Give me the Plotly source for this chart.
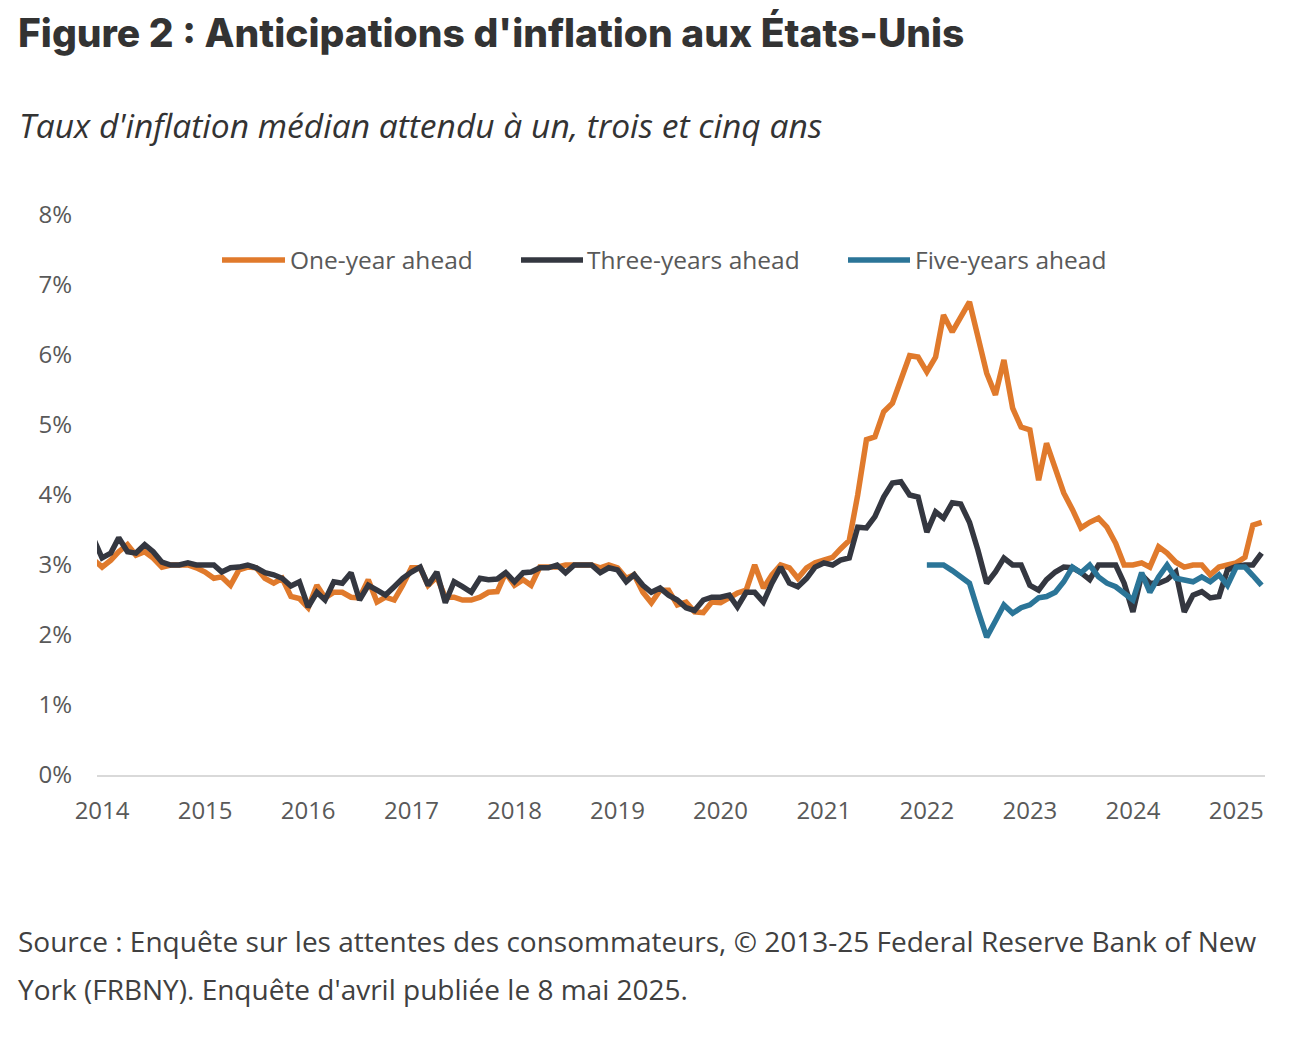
import pandas as pd
import plotly.graph_objects as go

# ---------------- DATA ----------------
months = pd.date_range("2013-12-01", "2025-04-01", freq="MS")          # 137 monthly obs
five_months = pd.date_range("2022-01-01", "2025-04-01", freq="MS")     # 40 monthly obs

one_year = [
    3.08,
    2.97, 3.07, 3.19, 3.29, 3.14, 3.19, 3.10, 2.97, 3.00, 3.00, 3.00, 2.96,   # 2014
    2.90, 2.81, 2.83, 2.71, 2.93, 2.97, 2.96, 2.81, 2.74, 2.81, 2.55, 2.52,   # 2015
    2.39, 2.71, 2.53, 2.61, 2.61, 2.54, 2.53, 2.79, 2.47, 2.54, 2.50, 2.71,   # 2016
    2.96, 2.96, 2.71, 2.83, 2.54, 2.54, 2.50, 2.50, 2.54, 2.61, 2.62, 2.89,   # 2017
    2.71, 2.79, 2.71, 2.97, 2.97, 2.97, 3.00, 3.00, 3.00, 3.00, 2.96, 3.00,   # 2018
    2.96, 2.81, 2.86, 2.61, 2.46, 2.64, 2.64, 2.43, 2.47, 2.33, 2.32, 2.47,   # 2019
    2.46, 2.53, 2.60, 2.64, 3.00, 2.67, 2.86, 3.00, 2.96, 2.81, 2.96, 3.03,   # 2020
    3.07, 3.11, 3.23, 3.35, 4.00, 4.79, 4.83, 5.19, 5.31, 5.64, 5.99, 5.97,   # 2021
    5.76, 5.97, 6.57, 6.33, 6.54, 6.76, 6.26, 5.74, 5.43, 5.93, 5.24, 4.97,   # 2022
    4.93, 4.21, 4.74, 4.40, 4.03, 3.79, 3.53, 3.61, 3.67, 3.54, 3.31, 3.00,   # 2023
    3.00, 3.03, 2.97, 3.26, 3.17, 3.04, 2.97, 3.00, 3.00, 2.86, 2.97, 3.00,   # 2024
    3.03, 3.11, 3.57, 3.61,                                                   # 2025
]

three_year = [
    3.38,
    3.10, 3.17, 3.39, 3.19, 3.17, 3.29, 3.19, 3.04, 3.00, 3.00, 3.03, 3.00,   # 2014
    3.00, 3.00, 2.90, 2.96, 2.97, 3.00, 2.96, 2.89, 2.86, 2.81, 2.70, 2.76,   # 2015
    2.40, 2.61, 2.50, 2.76, 2.74, 2.89, 2.50, 2.71, 2.64, 2.57, 2.69, 2.81,   # 2016
    2.90, 2.97, 2.71, 2.90, 2.46, 2.76, 2.69, 2.61, 2.81, 2.79, 2.80, 2.89,   # 2017
    2.76, 2.89, 2.90, 2.96, 2.96, 3.00, 2.89, 3.00, 3.00, 3.00, 2.89, 2.96,   # 2018
    2.93, 2.76, 2.86, 2.71, 2.61, 2.67, 2.57, 2.50, 2.39, 2.35, 2.50, 2.54,   # 2019
    2.54, 2.57, 2.40, 2.61, 2.61, 2.47, 2.74, 2.97, 2.74, 2.69, 2.81, 2.97,   # 2020
    3.03, 3.00, 3.07, 3.10, 3.54, 3.53, 3.69, 3.97, 4.17, 4.19, 4.00, 3.97,   # 2021
    3.47, 3.76, 3.67, 3.89, 3.87, 3.61, 3.21, 2.74, 2.90, 3.10, 3.00, 3.00,   # 2022
    2.71, 2.64, 2.79, 2.90, 2.97, 2.96, 2.89, 2.79, 3.00, 3.00, 3.00, 2.74,   # 2023
    2.33, 2.86, 2.74, 2.74, 2.79, 2.90, 2.33, 2.57, 2.62, 2.53, 2.55, 2.93,   # 2024
    2.98, 3.00, 3.00, 3.17,                                                   # 2025
]

five_year = [
    3.00, 3.00, 3.00, 2.92, 2.83, 2.74, 2.35, 1.97, 2.20, 2.43, 2.31, 2.39,   # 2022
    2.43, 2.53, 2.55, 2.61, 2.76, 2.97, 2.89, 3.00, 2.83, 2.74, 2.69, 2.60,   # 2023
    2.50, 2.89, 2.61, 2.83, 3.00, 2.81, 2.79, 2.76, 2.83, 2.76, 2.86, 2.71,   # 2024
    2.97, 2.97, 2.85, 2.71,                                                   # 2025
]

series_names = ["One-year ahead", "Three-years ahead", "Five-years ahead"]
series_colors = ["#E07A2C", "#343740", "#2B7598"]

year_ticks = pd.date_range("2014-01-01", "2025-01-01", freq="YS")
year_labels = [str(d.year) for d in year_ticks]
y_ticks = list(range(0, 9))
y_labels = [f"{v}%" for v in y_ticks]

# ---------------- LAYOUT GEOMETRY ----------------
W, H = 1302, 1040
L, R, T, B = 97, 1265, 215, 775


def px(x):
    return (x - L) / (R - L)


def py(y):
    return (B - y) / (B - T)


fig = go.Figure()
for name, xs, ys, col in [
    (series_names[0], months, one_year, series_colors[0]),
    (series_names[1], months, three_year, series_colors[1]),
    (series_names[2], five_months, five_year, series_colors[2]),
]:
    fig.add_trace(go.Scatter(
        x=xs, y=ys, mode="lines", name=name,
        line=dict(color=col, width=5.5),
        showlegend=False,
        hovertemplate="%{x|%b %Y}: %{y:.1f}%<extra>" + name + "</extra>",
    ))

tick_font = dict(family="Open Sans", size=24, color="#595959")

fig.update_layout(
    width=W, height=H,
    margin=dict(l=L, r=W - R, t=T, b=H - B, pad=0),
    paper_bgcolor="white", plot_bgcolor="white",
    xaxis=dict(
        type="date",
        range=["2013-12-14", "2025-04-13"],
        tickvals=list(year_ticks), ticktext=year_labels,
        showgrid=False, zeroline=False,
        showline=True, linecolor="#D9D9D9", linewidth=2,
        ticks="", ticklabelstandoff=13,
        tickfont=tick_font,
    ),
    yaxis=dict(
        range=[0, 8],
        tickvals=y_ticks, ticktext=y_labels,
        showgrid=False, zeroline=False, showline=False,
        ticks="", ticklabelstandoff=24,
        tickfont=tick_font,
    ),
)

annotations = [
    dict(text="Figure 2 : Anticipations d'inflation aux États-Unis",
         x=px(16), y=py(32), xanchor="left", yanchor="middle",
         font=dict(family="Inter", size=39, color="#333333", weight=800)),
    dict(text="<i>Taux d'inflation médian attendu à un, trois et cinq ans</i>",
         x=px(17), y=py(125), xanchor="left", yanchor="middle",
         font=dict(family="Open Sans", size=33.6, color="#333333")),
    dict(text="Source : Enquête sur les attentes des consommateurs, © 2013-25 Federal Reserve Bank of New",
         x=px(16), y=py(941), xanchor="left", yanchor="middle",
         font=dict(family="Open Sans", size=28, color="#404040")),
    dict(text="York (FRBNY). Enquête d'avril publiée le 8 mai 2025.",
         x=px(16), y=py(989), xanchor="left", yanchor="middle",
         font=dict(family="Open Sans", size=28, color="#404040")),
]

# manual legend (long line symbols like the original)
legend_items = [(222, 285, 288), (521, 583, 585), (848, 910, 913)]
shapes = []
for (x0, x1, xt), name, col in zip(legend_items, series_names, series_colors):
    shapes.append(dict(type="line", xref="paper", yref="paper",
                       x0=px(x0), x1=px(x1), y0=py(260), y1=py(260),
                       line=dict(color=col, width=5.5)))
    annotations.append(dict(text=name, x=px(xt), y=py(259),
                            xanchor="left", yanchor="middle",
                            font=dict(family="Open Sans", size=24.5, color="#595959")))

for a in annotations:
    a.update(xref="paper", yref="paper", showarrow=False)

fig.update_layout(annotations=annotations, shapes=shapes)

fig.write_html("out.html", config={"displayModeBar": False},
               post_script="document.body.style.margin='0';")
